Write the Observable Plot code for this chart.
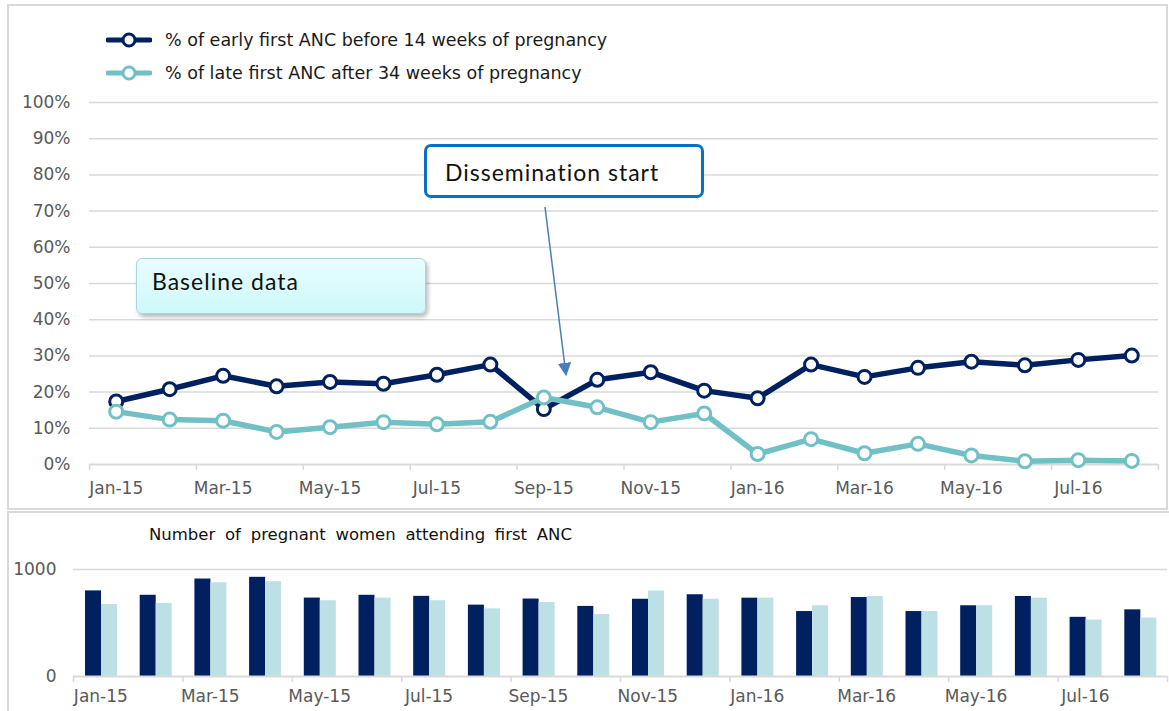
<!DOCTYPE html>
<html><head><meta charset="utf-8">
<script src="https://cdn.jsdelivr.net/npm/d3@7"></script>
<script src="https://cdn.jsdelivr.net/npm/@observablehq/plot@0.6"></script>
<style>
body{margin:0;background:#fff;}
#wrap{position:relative;width:1169px;height:711px;overflow:hidden;background:#fff;font-family:"DejaVu Sans",sans-serif;}
.frame{position:absolute;border:2px solid #D9D9D9;box-sizing:border-box;}
.abs{position:absolute;}
.legrow{position:absolute;left:106px;height:24px;display:flex;align-items:center;font-size:17.5px;color:#1a1a1a;white-space:nowrap;}
.legrow svg{margin-right:13px;}
.box{position:absolute;box-sizing:border-box;font-family:Lato,"Open Sans",sans-serif;font-size:23px;letter-spacing:1px;color:#111;display:flex;align-items:center;}
</style></head><body>
<div id="wrap">
  <div class="frame" style="left:7px;top:4px;width:1161px;height:506px;"></div>
  <div class="frame" style="left:7px;top:511px;width:1170px;height:210px;"></div>
  <div id="top" class="abs" style="left:0;top:0;"></div>
  <div id="bottom" class="abs" style="left:0;top:510px;"></div>
  <div id="legend"></div>
  <div class="box" style="left:136px;top:258px;width:290px;height:56px;border:1px solid #A9D6DA;border-radius:6px;background:linear-gradient(#E8FDFE,#CFF8FB);box-shadow:2px 3px 4px rgba(0,0,0,0.28);padding-left:15px;padding-bottom:10px;">Baseline data</div>
  <div class="box" style="left:424px;top:144px;width:280px;height:54px;border:3px solid #0A70C0;border-radius:7px;background:#fff;padding-left:18px;padding-top:2px;">Dissemination start</div>
  <svg class="abs" style="left:0;top:0;" width="1169" height="711">
    <defs><marker id="ah" viewBox="0 0 10 10" refX="9" refY="5" markerWidth="9" markerHeight="9" orient="auto"><path d="M0,0L10,5L0,10z" fill="#4A7EBB"/></marker></defs>
    <line x1="545" y1="207" x2="566" y2="375" stroke="#4A7EBB" stroke-width="1.5" marker-end="url(#ah)"/>
  </svg>
  <div class="abs" style="left:149px;top:525px;font-size:16.5px;color:#111;word-spacing:4.5px;">Number of pregnant women attending first ANC</div>
</div>
<script>
const months = ["Jan-15","Feb-15","Mar-15","Apr-15","May-15","Jun-15","Jul-15","Aug-15","Sep-15","Oct-15","Nov-15","Dec-15","Jan-16","Feb-16","Mar-16","Apr-16","May-16","Jun-16","Jul-16","Aug-16"];
const earlyPct = [17.4,20.8,24.5,21.6,22.8,22.3,24.8,27.6,15.3,23.4,25.5,20.4,18.3,27.6,24.2,26.7,28.4,27.4,28.9,30.1];
const latePct  = [14.6,12.4,12.1,9.0,10.3,11.7,11.1,11.8,18.5,15.8,11.7,14.1,2.9,7.0,3.1,5.7,2.5,0.9,1.2,1.0];
const earlyCount = [800,759,911,927,733,759,749,667,724,655,722,764,732,607,738,607,661,748,553,623];
const lateCount  = [673,683,876,886,708,733,708,632,692,578,799,722,732,661,748,607,661,732,527,546];
const seriesNames = ["% of early first ANC before 14 weeks of pregnancy","% of late first ANC after 34 weeks of pregnancy"];
const pctTicks = [0,10,20,30,40,50,60,70,80,90,100];
const countTicks = [0,1000];

const darkColor = "#002060", lineLight = "#70C0C6", barLight = "#BDE0E4";
const font = "'DejaVu Sans', sans-serif";
const idx = months.map((m,i)=>i);
const bounds = d3.range(-0.5, months.length, 2);
const labelIdx = idx.filter(i=>i%2===0);
const early = idx.map(i=>({i, v: earlyPct[i]}));
const late = idx.map(i=>({i, v: latePct[i]}));

const topPlot = Plot.plot({
  width:1169, height:510, marginLeft:89, marginRight:11, marginTop:102, marginBottom:46,
  x:{type:"linear", domain:[-0.5, months.length-0.5], label:null},
  y:{domain:[0,100], label:null},
  style:{fontFamily:font, fontSize:"17px", color:"#595959", background:"transparent", overflow:"visible"},
  marks:[
    Plot.gridY(pctTicks.slice(1), {stroke:"#D9D9D9", strokeOpacity:1, strokeWidth:1.5}),
    Plot.axisY(pctTicks, {tickSize:0, tickPadding:19, tickFormat:d=>d+"%", fill:"#595959", stroke:"none", label:null}),
    Plot.ruleY([0], {stroke:"#D9D9D9", strokeWidth:2}),
    Plot.axisX(bounds, {tickSize:6, tickFormat:()=>"", stroke:"#D9D9D9", strokeWidth:1.5, label:null}),
    Plot.axisX(labelIdx, {tickSize:0, tickPadding:17, tickFormat:i=>months[i], fill:"#595959", label:null}),
    Plot.line(early, {x:"i", y:"v", stroke:darkColor, strokeWidth:5.5}),
    Plot.dot(early, {x:"i", y:"v", r:6.5, fill:"white", stroke:darkColor, strokeWidth:3}),
    Plot.line(late, {x:"i", y:"v", stroke:lineLight, strokeWidth:5.5}),
    Plot.dot(late, {x:"i", y:"v", r:6.5, fill:"white", stroke:lineLight, strokeWidth:3})
  ]
});
document.getElementById("top").appendChild(topPlot);

const eC = idx.map(i=>({i, v: earlyCount[i]}));
const lC = idx.map(i=>({i, v: lateCount[i]}));
const bottomPlot = Plot.plot({
  width:1169, height:201, marginLeft:73, marginRight:2, marginTop:59, marginBottom:35,
  x:{type:"linear", domain:[-0.5, months.length-0.5], label:null},
  y:{domain:[0,1000], label:null},
  style:{fontFamily:font, fontSize:"17px", color:"#595959", background:"transparent", overflow:"visible"},
  marks:[
    Plot.gridY([1000], {stroke:"#D9D9D9", strokeOpacity:1, strokeWidth:1.5}),
    Plot.axisY(countTicks, {tickSize:0, tickPadding:17, fill:"#595959", stroke:"none", tickFormat:d=>String(d), label:null}),
    Plot.rect(eC, {x1:d=>d.i-0.5, x2:d=>d.i+0.5, y1:0, y2:"v", fill:darkColor, insetLeft:12, insetRight:26.7}),
    Plot.rect(lC, {x1:d=>d.i-0.5, x2:d=>d.i+0.5, y1:0, y2:"v", fill:barLight, insetLeft:28, insetRight:10.7}),
    Plot.ruleY([0], {stroke:"#D9D9D9", strokeWidth:2}),
    Plot.axisX(bounds, {tickSize:6, tickFormat:()=>"", stroke:"#D9D9D9", strokeWidth:1.5, label:null}),
    Plot.axisX(labelIdx, {tickSize:0, tickPadding:13, tickFormat:i=>months[i], fill:"#595959", label:null})
  ]
});
document.getElementById("bottom").appendChild(bottomPlot);

const legend = document.getElementById("legend");
[[darkColor, 28], [lineLight, 61]].forEach(([c, top], k) => {
  const row = document.createElement("div");
  row.className = "legrow";
  row.style.top = top + "px";
  row.innerHTML = `<svg width="46" height="20"><line x1="2" y1="10" x2="44" y2="10" stroke="${c}" stroke-width="5" stroke-linecap="round"/><circle cx="23" cy="10" r="6" fill="white" stroke="${c}" stroke-width="3"/></svg><span>${seriesNames[k]}</span>`;
  legend.appendChild(row);
});
</script>
</body></html>
